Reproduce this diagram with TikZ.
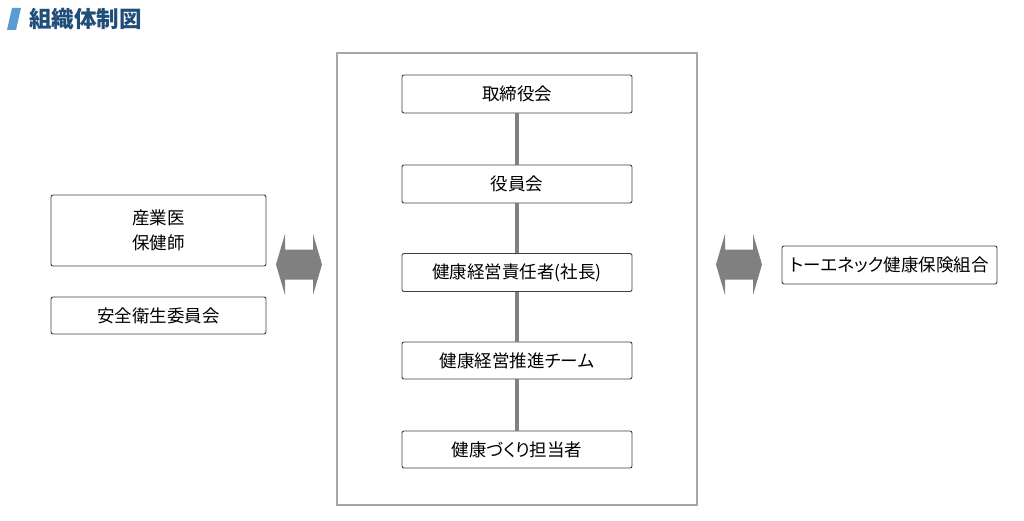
\documentclass[tikz,border=0pt]{standalone}
\usepackage{fontspec}
\setmainfont[CharacterWidth=AlternateProportional]{Noto Sans CJK JP}
\definecolor{titleblue}{RGB}{31,78,121}
\definecolor{barblue}{RGB}{91,155,213}
\definecolor{linegray}{RGB}{128,128,128}
\definecolor{framegray}{RGB}{166,166,166}
\definecolor{boxline}{RGB}{64,64,64}
\tikzset{
  orgbox/.style={draw=boxline, line width=0.9pt, rounded corners=2pt, fill=white,
    minimum width=230pt, minimum height=38pt, inner sep=0pt, align=center,
    font=\fontsize{17.5pt}{25pt}\selectfont},
  sidebox/.style={orgbox, minimum width=215pt},
  link/.style={draw=linegray, line width=4pt},
  bigarrow/.style={fill=linegray, draw=none},
}
\begin{document}
\begin{tikzpicture}[x=1pt,y=-1pt]
\useasboundingbox (0,0) rectangle (1024,521);
\fill[white] (0,0) rectangle (1024,521);
% title
\fill[barblue] (12,8) -- (21,8) -- (16,30) -- (7,30) -- cycle;
\node[anchor=west, inner sep=0pt, text=titleblue, font=\fontsize{22.5pt}{24pt}\selectfont\bfseries] (title) at (29,19) {組織体制図};
% container
\node[draw=framegray, line width=1.2pt, minimum width=360pt, minimum height=452pt, inner sep=0pt] (frame) at (517,279) {};
% central column
\node[orgbox] (t1) at (517,94) {取締役会};
\node[orgbox] (t2) at (517,184) {役員会};
\node[orgbox] (t3) at (517,272.5) {健康経営責任者(社長)};
\node[orgbox, minimum height=37pt] (t4) at (517,360.5) {健康経営推進チーム};
\node[orgbox, minimum height=37pt] (t5) at (517,449.5) {健康づくり担当者};
\draw[link] (t1) -- (t2);
\draw[link] (t2) -- (t3);
\draw[link] (t3) -- (t4);
\draw[link] (t4) -- (t5);
% left side
\node[sidebox, minimum height=71pt] (l1) at (158.5,230.5) {産業医\\保健師};
\node[sidebox, minimum height=37pt] (l2) at (158.5,315.5) {安全衛生委員会};
% right side
\node[sidebox] (r1) at (889.5,265) {トーエネック健康保険組合};
% double arrows
\coordinate (al) at (299,264.5);
\coordinate (ar) at (739,264.5);
\foreach \c in {al,ar}{
  \fill[bigarrow] ([shift={(-23,0)}]\c) -- ([shift={(-14,-30.5)}]\c) -- ([shift={(-14,-15)}]\c)
    -- ([shift={(14,-15)}]\c) -- ([shift={(14,-30.5)}]\c) -- ([shift={(23,0)}]\c)
    -- ([shift={(14,30.5)}]\c) -- ([shift={(14,15)}]\c) -- ([shift={(-14,15)}]\c)
    -- ([shift={(-14,30.5)}]\c) -- cycle;
}
\end{tikzpicture}
\end{document}
